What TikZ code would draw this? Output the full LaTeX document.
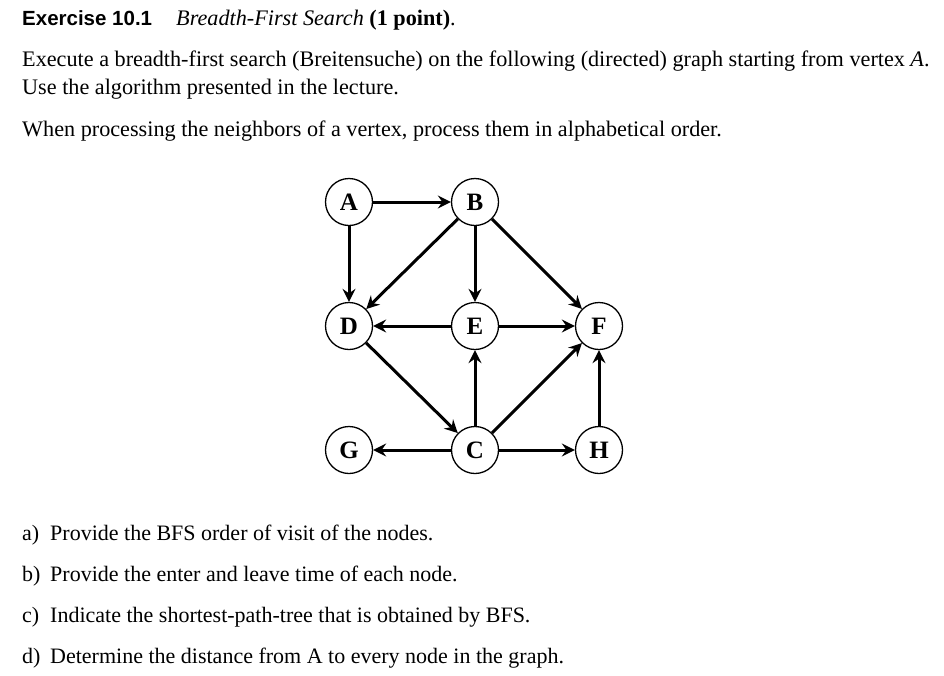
\documentclass[tikz,border=0pt]{standalone}
\usepackage{fontspec}
\setmainfont{Liberation Serif}
\newfontfamily\headfont{Liberation Sans}
\usetikzlibrary{arrows.meta}
\tikzset{
  >={Stealth[length=13pt,width=13pt,inset=4.5pt]},
  vertex/.style={circle,draw,line width=1.3pt,fill=white,minimum size=47pt,inner sep=0pt,
    font=\fontsize{25}{25}\selectfont\bfseries},
  edge/.style={->,line width=3pt},
  txt/.style={anchor=base west,inner sep=0pt,font=\fontsize{22.2}{26}\selectfont},
  item/.style={anchor=base west,inner sep=0pt,font=\fontsize{22}{26}\selectfont},
}
\begin{document}
\begin{tikzpicture}[x=1pt,y=-1pt]
  \fill[white] (0,0) rectangle (944,675);
  \useasboundingbox (0,0) rectangle (944,675);
  % header and task text
  \node[txt,font=\fontsize{20.5}{24}\selectfont] (head) at (22,25) {{\headfont\bfseries Exercise 10.1}};
  \node[txt] (title) at (176,25) {\textit{Breadth-First Search} \textbf{(1 point)}.};
  \node[txt] (l1) at (22,66) {Execute a breadth-first search (Breitensuche) on the following (directed) graph starting from vertex \textit{A}.};
  \node[txt] (l2) at (22,94) {Use the algorithm presented in the lecture.};
  \node[txt] (l3) at (22,136) {When processing the neighbors of a vertex, process them in alphabetical order.};
  % graph
  \foreach \n/\x/\y in {A/349/202,B/475/202,D/349/326,E/475/326,F/599/326,G/349/450,C/475/450,H/599/450}
    \node[vertex] (\n) at (\x,\y) {\n};
  \foreach \s/\t in {A/B,A/D,B/D,B/E,B/F,E/D,E/F,D/C,C/E,C/F,C/G,C/H,H/F}
    \draw[edge] (\s) -- (\t);
  % questions
  \foreach \l/\t [count=\i from 0] in {a)/Provide the BFS order of visit of the nodes.,
    b)/Provide the enter and leave time of each node.,
    c)/Indicate the shortest-path-tree that is obtained by BFS.,
    d)/Determine the distance from A to every node in the graph.}{
    \node[item] (k\i) at (22,540+41*\i) {\l};
    \node[item] (q\i) at (50,540+41*\i) {\t};
  }
\end{tikzpicture}
\end{document}
